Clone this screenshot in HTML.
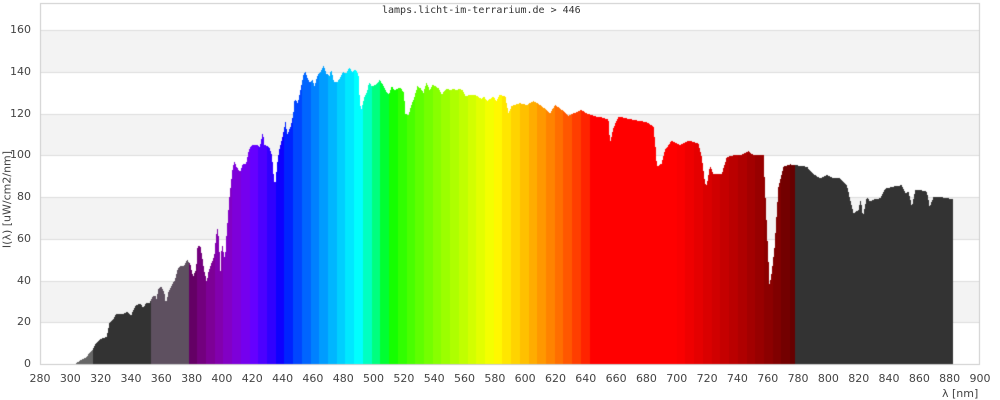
<!DOCTYPE html>
<html><head><meta charset="utf-8"><style>
html,body{margin:0;padding:0;background:#fff;width:1000px;height:400px;overflow:hidden;position:relative;font-family:"DejaVu Sans","Liberation Sans",sans-serif;}
canvas{position:absolute;left:0;top:0}
.t{position:absolute;font-size:11px;color:#444;white-space:nowrap}
</style></head><body>
<canvas id="c" width="1000" height="400"></canvas>
<div class="t" style="left:382px;top:5px;font-family:'DejaVu Sans Mono','Liberation Mono',monospace;font-size:10px;color:#333">lamps.licht-im-terrarium.de &gt; 446</div>
<div class="t" style="left:-48px;top:193px;width:110px;text-align:center;transform:rotate(-90deg)">I(λ)  [uW/cm2/nm]</div>
<div id="lab"></div>
<div class="t" style="left:942px;top:387px">λ [nm]</div>
<script>
var c=document.getElementById('c').getContext('2d');
var L=40,R=980,B=364;
function X(l){return L+(l-280)*940/620;}
function Y(v){return B-v*2.0875;}
c.fillStyle='#fff';c.fillRect(L,3,R-L,B-3);
c.fillStyle='#f3f3f3';
[[140,160],[100,120],[60,80],[20,40]].forEach(function(b){c.fillRect(L,Math.round(Y(b[1])),R-L,Math.round(Y(b[0]))-Math.round(Y(b[1])));});
c.strokeStyle='#ddd';c.lineWidth=1;
for(var v=0;v<=160;v+=20){c.beginPath();c.moveTo(L,Math.round(Y(v))+.5);c.lineTo(R,Math.round(Y(v))+.5);c.stroke();}
c.strokeStyle='#ccc';c.strokeRect(L+.5,3.5,R-L-1,B-3);
var lab=document.getElementById('lab'),h='';
for(var v=0;v<=160;v+=20)h+='<div class="t" style="left:0;width:31px;text-align:right;top:'+(Y(v)-7)+'px">'+v+'</div>';
for(var l=280;l<=900;l+=20)h+='<div class="t" style="left:'+(X(l)-15)+'px;width:30px;text-align:center;top:372px">'+l+'</div>';
lab.innerHTML=h;
var P=[[300,0],[303,0],[305,1],[310,3],[315,7],[317,10],[320,12],[324,13],[326,20],[328,21],[330,24],[335,24],[338,25],[340,23],[343,28],[346,29],[348,27],[350,29],[352,29],[354,32],[356,33],[357,31],[358,36],[360,37],[362,34],[363,29],[365,35],[367,38],[369,40],[371,46],[373,47],[375,47],[377,50],[379,48],[381,42],[383,45],[384,57],[386,56],[388,46],[390,39],[391,44],[393,48],[395,52],[396,60],[397,65],[398,60],[399,44],[400,58],[402,50],[403,61],[405,80],[407,93],[408,97],[410,94],[412,92],[414,96],[416,96],[418,103],[420,105],[423,105],[425,104],[427,111],[428,105],[431,104],[433,100],[434,91],[435,85],[436,92],[437,99],[438,103],[440,109],[442,116],[443,110],[445,113],[447,119],[448,127],[450,125],[451,128],[452,132],[454,139],[455,140],[457,136],[458,135],[460,136],[461,133],[463,138],[465,140],[467,143],[469,139],[471,138],[472,141],[474,135],[476,135],[478,137],[480,140],[482,139],[484,142],[486,140],[488,141],[490,139],[491,125],[492,122],[494,128],[496,131],[497,135],[499,133],[502,134],[504,136],[506,134],[508,131],[510,129],[512,133],[514,131],[516,132],[518,132],[520,130],[521,120],[523,119],[525,124],[527,128],[529,133],[531,132],[533,130],[535,135],[537,131],[539,134],[541,133],[543,132],[545,129],[547,131],[549,132],[551,131],[553,132],[555,131],[557,132],[559,131],[561,128],[563,129],[565,129],[567,129],[569,128],[571,127],[573,128],[575,126],[577,127],[579,128],[581,126],[583,129],[587,128],[589,120],[591,123.6],[596.6,125],[601,124],[605.4,126],[610,124],[614.2,121.7],[616.4,120],[619.7,124],[623,122.5],[628.5,119],[637.3,121.7],[640.6,120],[647.2,118.5],[651.6,118],[654.9,117],[656,105.7],[658.2,113],[661.5,118.5],[671.4,117],[680.2,115.8],[684.6,113.7],[686.4,101],[686.8,94.5],[690,96],[692.3,102.5],[696.7,107],[702.2,105],[707.7,107],[714.3,105.7],[716.5,99],[718.7,86.5],[719.8,85.7],[722,95],[724.2,91],[729.7,91],[733,99],[737.4,100],[741.8,100],[747.3,102],[750.6,100],[757.2,100],[759.4,65.8],[761.2,37.8],[762.7,44],[764.5,56],[767.1,85],[770.4,94.5],[774.8,95.6],[778.1,95.3],[785.8,94.5],[790.2,91],[794.6,89],[799,90.5],[803.4,89],[807.8,89],[812.2,85.7],[814.4,78.6],[816.6,72.2],[819.9,73.8],[821.4,79],[822.8,70.6],[825.4,80],[827.6,77.8],[830.9,79],[834.2,79.4],[837.5,84],[843,85],[848.5,85.7],[850.7,81.8],[852.9,82.5],[855.1,75.4],[857.3,83.4],[860.6,83.4],[865,82.5],[866.8,75.4],[869.4,80],[873.8,80],[882,79]];
function val(l){for(var i=1;i<P.length;i++){if(l<=P[i][0]){var a=P[i-1],b=P[i];return a[1]+(b[1]-a[1])*(l-a[0])/(b[0]-a[0]);}}return 0;}
function wl(w){var r=0,g=0,b=0;
if(w<440){r=-(w-440)/60;b=1}else if(w<490){g=(w-440)/50;b=1}else if(w<510){g=1;b=-(w-510)/20}else if(w<580){r=(w-510)/70;g=1}else if(w<645){r=1;g=-(w-645)/65}else{r=1}
var f=1;if(w<420)f=0.3+0.7*(w-380)/40;else if(w>700)f=0.3+0.7*(780-w)/80;
function q(x){return x<=0?0:Math.round(255*Math.pow(x*f,0.8));}
return 'rgb('+q(r)+','+q(g)+','+q(b)+')';}
function col(l){if(l<315)return '#666';if(l<353.5)return '#333';if(l<378)return '#5e5060';if(l>=778)return '#333';
var bw=5.75,k=Math.floor((l-378)/bw);return wl(378+k*bw+bw/2);}
var x0=Math.round(X(300)),x1=Math.round(X(882));
for(var x=x0;x<x1;x++){var l=280+(x+0.5-L)*620/940;var v=val(l);if(v<=0)continue;c.fillStyle=col(l);var y=Math.round(Y(v));c.fillRect(x,y,1,B-y);}
c.fillStyle='#ccc';c.fillRect(L,B,R-L,1);
</script>
</body></html>
